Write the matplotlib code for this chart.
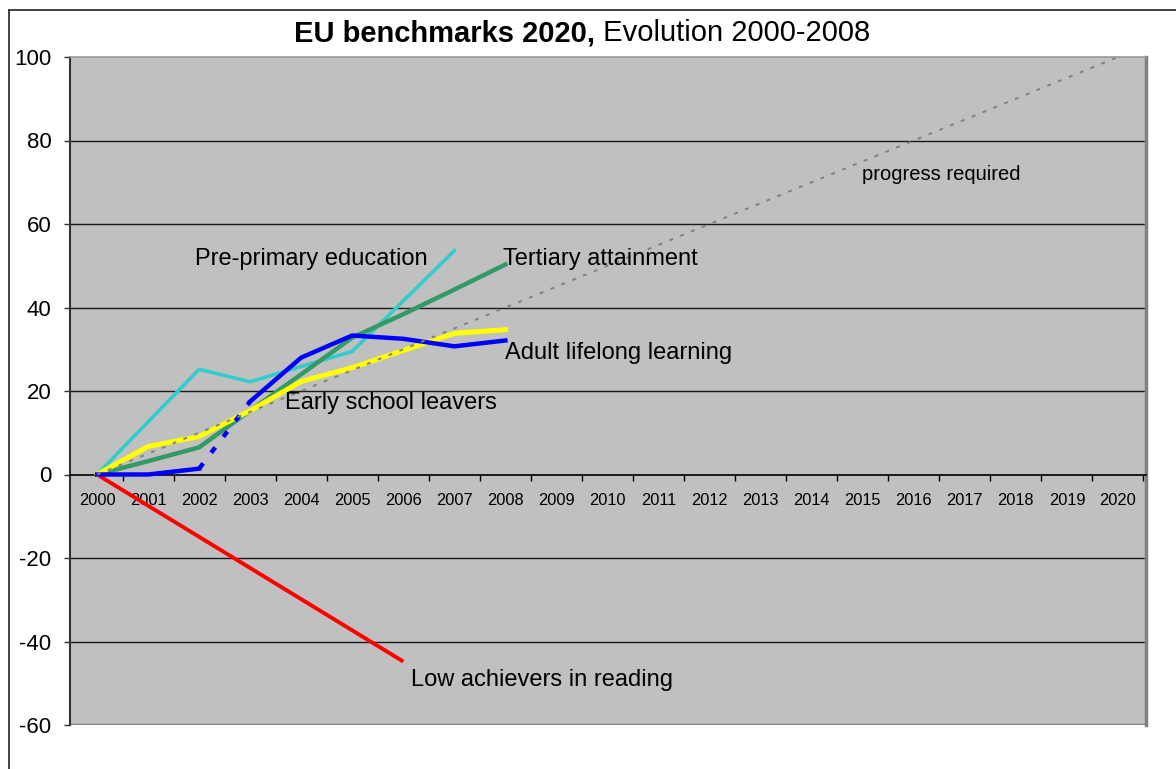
import matplotlib
matplotlib.use("Agg")
import matplotlib.pyplot as plt
from matplotlib.lines import Line2D

plt.rcParams['font.family'] = ['Liberation Sans', 'DejaVu Sans']

# ---- data ----
years = list(range(2000, 2021))
year_labels = [str(y) for y in years]

pre_years = [2000, 2001, 2002, 2003, 2004, 2005, 2006, 2007]
pre_vals = [0, 12.6, 25.2, 22.2, 25.9, 29.5, 41.6, 53.6]

data_years = [2000, 2001, 2002, 2003, 2004, 2005, 2006, 2007, 2008]
tertiary_vals = [0, 3.2, 6.5, 15.3, 24.0, 32.8, 38.4, 44.3, 50.3]
early_vals = [0, 6.7, 9.1, 15.3, 22.3, 25.6, 29.7, 33.8, 34.7]
adult_vals = [0, 0, 1.4, 17.5, 28.0, 33.3, 32.5, 30.7, 32.1]
adult_break = 2  # series break between 2002 and 2003 (dashed)

low_years = [2000, 2006]
low_vals = [0, -44.8]

progress_years = [2000, 2020]
progress_vals = [0, 100]

yticks = [-60, -40, -20, 0, 20, 40, 60, 80, 100]

# ---- figure ----
fig = plt.figure(figsize=(11.76, 7.69), dpi=100)
ax = fig.add_axes([70/1176, 1-725/769, (1146-70)/1176, (725-57)/769])
ax.set_facecolor('#C0C0C0')

# frame lines of chart area (cropped)
fig.add_artist(Line2D([9/1176, 1], [1-10/769, 1-10/769], transform=fig.transFigure, color='#333333', lw=1.3))
fig.add_artist(Line2D([9/1176, 9/1176], [0, 1-10/769], transform=fig.transFigure, color='#333333', lw=1.3))

ax.set_xlim(1999.47, 2020.55)
ax.set_ylim(-60, 100)

for yv in yticks:
    if yv not in (-60, 0, 100):
        ax.axhline(yv, color='#1a1a1a', lw=1.0, zorder=1)
ax.axhline(-60, color='#808080', lw=2.5, zorder=1)

ax.spines['top'].set_color('#9a9a9a')
ax.spines['top'].set_linewidth(1.2)
ax.spines['right'].set_color('#808080')
ax.spines['right'].set_linewidth(2.5)
ax.spines['left'].set_color('#333333')
ax.spines['left'].set_linewidth(1.5)
ax.spines['bottom'].set_position(('data', 0))
ax.spines['bottom'].set_color('black')
ax.spines['bottom'].set_linewidth(1.2)

ax.set_yticks(yticks)
ax.set_yticklabels([str(v) for v in yticks], fontsize=16)
ax.tick_params(axis='y', direction='out', length=4.5, width=1, color='#333333', pad=9)

ax.set_xticks(years)
ax.set_xticklabels(year_labels, fontsize=11.8)
ax.set_xticks([y + 0.5 for y in years], minor=True)
ax.tick_params(axis='x', which='major', length=0, pad=13)
ax.tick_params(axis='x', which='minor', direction='out', length=4.5, width=1, color='black')

# ---- series ----
ax.plot(low_years, low_vals, color='#FF0000', lw=2.8, zorder=3, solid_capstyle='butt')
ax.plot(pre_years, pre_vals, color='#33CCCC', lw=2.6, zorder=3)
ax.plot(data_years, tertiary_vals, color='#339966', lw=3.2, zorder=4)
ax.plot(data_years, early_vals, color='#FFFF00', lw=3.6, zorder=5)
ax.plot(data_years[:adult_break + 1], adult_vals[:adult_break + 1], color='#0000FF', lw=3.2, zorder=6)
ax.plot(data_years[adult_break:adult_break + 2], adult_vals[adult_break:adult_break + 2],
        color='#0000FF', lw=3.2, zorder=6, linestyle=(0, (1.5, 3.0)), solid_capstyle='butt')
ax.plot(data_years[adult_break + 1:], adult_vals[adult_break + 1:], color='#0000FF', lw=3.2, zorder=6)
ax.plot(progress_years, progress_vals, color='#808080', lw=1.4, linestyle=(0, (2, 4)), zorder=7)

# ---- labels ----
lab = dict(fontsize=17, color='black', va='center', ha='left', zorder=8)
ax.text(2001.92, 51.7, 'Pre-primary education', **lab)
ax.text(2007.95, 51.7, 'Tertiary attainment', **lab)
ax.text(2007.99, 29.1, 'Adult lifelong learning', **lab)
ax.text(2003.68, 17.2, 'Early school leavers', **lab)
ax.text(2006.15, -49.3, 'Low achievers in reading', **lab)
ax.text(2014.98, 71.9, 'progress required', fontsize=14.5, va='center', ha='left', zorder=8)

# ---- title ----
ty = 1 - 33/769
t1 = fig.text(0.5, ty, 'EU benchmarks 2020,', fontsize=21, fontweight='bold', ha='right', va='center')
t2 = fig.text(0.5, ty, ' Evolution 2000-2008', fontsize=21, ha='left', va='center')
fig.canvas.draw()
w1 = t1.get_window_extent().width
w2 = t2.get_window_extent().width
cx = 582
left = cx - (w1 + w2) / 2
t1.set_x((left + w1) / 1176)
t2.set_x((left + w1) / 1176)

fig.savefig('out.png', dpi=100, facecolor='white')
